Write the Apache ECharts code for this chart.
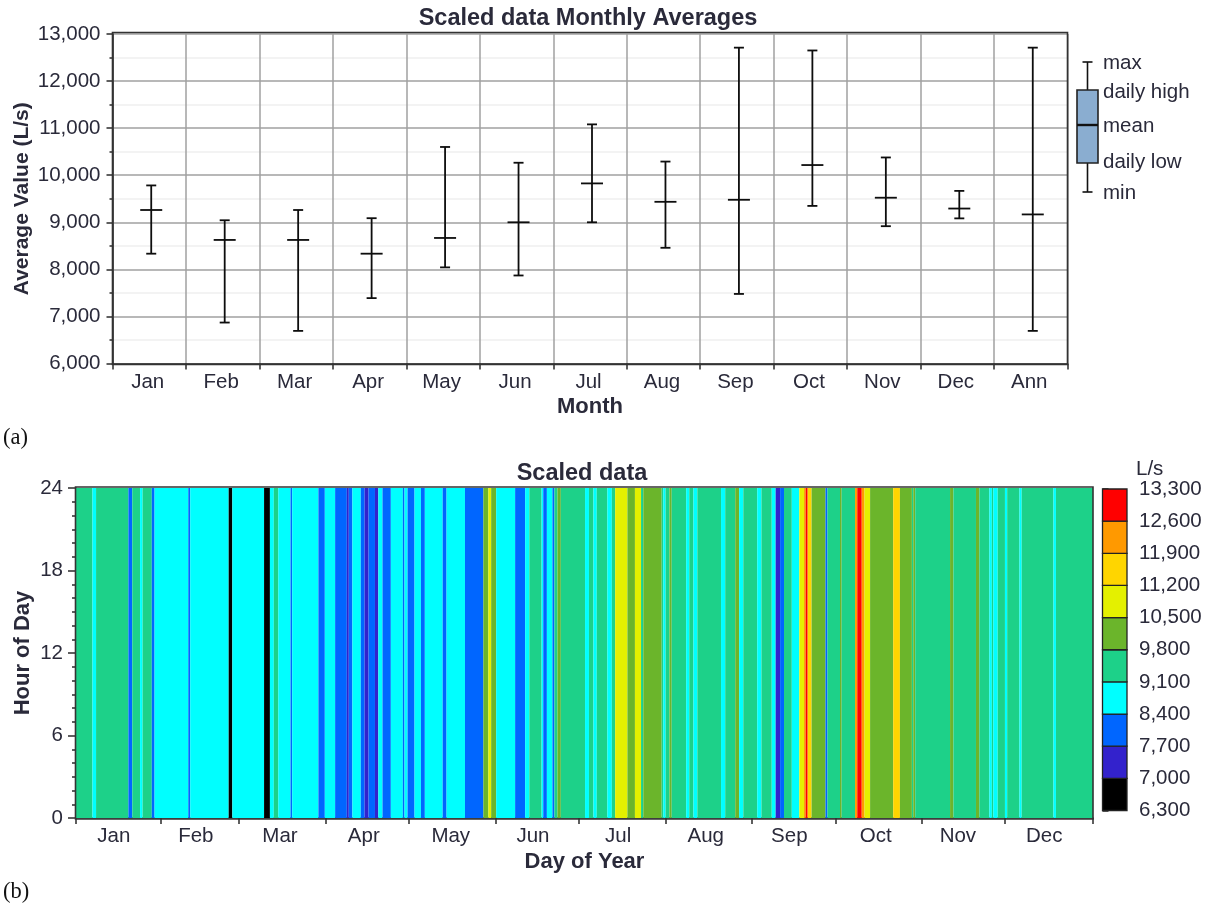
<!DOCTYPE html>
<html><head><meta charset="utf-8">
<style>html,body{margin:0;padding:0;background:#fff}#c{width:1214px;height:904px}</style>
<script src="https://cdn.jsdelivr.net/npm/echarts@6/dist/echarts.min.js"></script>
</head><body><div id="c"></div>
<script>
// ---- Monthly chart data (L/s)
const months = ['Jan','Feb','Mar','Apr','May','Jun','Jul','Aug','Sep','Oct','Nov','Dec','Ann'];
const monthlyMax  = [9783,9043,9261,9087,10600,10265,11080,10290,12710,12650,10377,9667,12710];
const monthlyMean = [9261,8625,8625,8333,8667,9000,9826,9435,9478,10216,9522,9292,9167];
const monthlyMin  = [8333,6870,6693,7389,8042,7870,9000,8458,7478,9348,8917,9083,6693];
const yTicksNote  = [6000,13000,1000];

// ---- Box key (schematic positions on its own hidden scale)
const keyNames  = ['max','daily high','mean','daily low','min'];
const keyLevels = [130,102,67,29,0];

// ---- Day-of-year strips: start day of each run + band of that run
const stripStart = [0,5.9,7.2,18.8,20.2,23,23.9,27.2,28.2,40.3,41,54.8,56.1,67.5,69.6,71,72.6,77,77.6,87,89.3,93,97.2,97.9,99.2,102.2,103.6,105,107.3,108.5,110,113,117.3,117.9,119,121.5,123.8,125.2,131.6,133,139.6,146.2,148,149,150.8,157.6,161.2,162.7,167.1,167.7,169,171,171.7,172.8,174,182.7,184.1,185.7,186.9,190.7,192.3,193.5,197.9,200.6,202.8,203.6,210.2,210.8,211.6,213,213.8,219,220.1,221.6,223,231.5,233,236.6,238,239.5,244.5,246,249.7,251.1,252.7,254.1,256.9,259.6,261.3,261.9,262.6,264,269,269.7,274.2,274.8,279.6,280.4,282,283,285,293.3,295.7,300,300.5,301.2,313.7,314.9,323,324.2,327.8,328.7,329.2,330.8,333.4,334.2,338.6,339.4,350.8,351.7];
const stripValue = [9450,8800,9450,8000,9450,8800,9450,8000,8800,8000,8800,6700,8800,6700,8800,9450,8800,8000,8800,8000,8800,8000,7400,8000,8800,8000,7400,8000,7400,8800,8000,8800,8000,8800,8000,8800,8000,8800,8000,8800,8000,10100,10800,10100,8800,8000,8800,9450,8800,8000,8800,8000,9450,10100,9450,8800,9450,8800,9450,8800,9450,10800,10100,10800,9450,10100,9450,8800,9450,10100,9450,8800,9450,8800,9450,8800,9450,10100,8800,9450,8800,9450,8800,7400,8000,9450,8800,10800,12200,12900,11500,10100,8000,9450,10100,9450,12200,12900,12200,10800,10100,11500,10100,9450,10100,9450,10100,9450,10100,9450,8800,9450,8800,9450,8800,9450,8800,9450,8800,9450];
const yearEnd = 365;

const monthTicks = [0,30.5,58.5,89.5,119.5,150.5,180.5,211.5,242.5,272.5,303.5,333.5,365];
const monthLabelDays = [13.6,43,73.2,103.3,134.5,164,194.6,226,256,287,316.5,347.5];
const monthLabels = ['Jan','Feb','Mar','Apr','May','Jun','Jul','Aug','Sep','Oct','Nov','Dec'];

// ---- Colour scale
const bandEdges  = [6300,7000,7700,8400,9100,9800,10500,11200,11900,12600,13300];
const bandColors = ['#000000','#3322cc','#0066ff','#00ffff','#1dd189','#6bb52b','#e4f000','#ffd500','#ff9900','#ff0000'];

const FONT = '"Liberation Sans", Arial, sans-serif';
const TXT = '#2a2a3a', AX = '#2b2b2b', GRID = '#a0a0a0';
const colorOf = v => { for (let i = 0; i < bandColors.length; i++) if (v < bandEdges[i+1]) return bandColors[i]; return bandColors[9]; };
const thous = v => String(v).replace(/\B(?=(\d{3})+$)/g, ',');

const stripData = stripStart.map((s,i) => [s, i+1 < stripStart.length ? stripStart[i+1] : yearEnd, stripValue[i]]);
const bandData = bandColors.map((c,i) => [bandEdges[i], bandEdges[i+1], c]);

const chart = echarts.init(document.getElementById('c'), null, {renderer:'canvas'});
const axisLine = {show:true, onZero:false, lineStyle:{color:AX, width:1.5}};
const TICKFS = 20.5, NAMEFS = 22;

chart.setOption({
  animation:false, backgroundColor:'#fff',
  title:[
    {text:'Scaled data Monthly Averages', left:588, top:7, padding:0, textAlign:'center', textStyle:{fontFamily:FONT,fontWeight:'bold',fontSize:23.5,color:TXT}},
    {text:'Scaled data', left:582, top:462, padding:0, textAlign:'center', textStyle:{fontFamily:FONT,fontWeight:'bold',fontSize:23.5,color:TXT}},
    {text:'(a)', left:3, top:427, padding:0, textStyle:{fontFamily:'"Liberation Serif",serif',fontWeight:'normal',fontSize:22.5,color:'#111'}},
    {text:'(b)', left:3, top:881, padding:0, textStyle:{fontFamily:'"Liberation Serif",serif',fontWeight:'normal',fontSize:22.5,color:'#111'}},
    {text:'L/s', left:1136, top:459, padding:0, textStyle:{fontFamily:FONT,fontWeight:'normal',fontSize:20.5,color:TXT}}
  ],
  grid:[
    {left:112.5, top:34, width:955, height:329.5, outerBoundsMode:'none'},
    {left:76, top:488, width:1017, height:330, outerBoundsMode:'none'},
    {left:1102.5, top:489, width:24.5, height:321.5, outerBoundsMode:'none'},
    {left:1077, top:62, width:21, height:130, outerBoundsMode:'none'}
  ],
  xAxis:[
    {gridIndex:0, type:'category', data:months, boundaryGap:true, axisLine,
     axisTick:{show:true, alignWithLabel:false, interval:0, length:6, lineStyle:{color:AX,width:1.5}},
     axisLabel:{interval:0, margin:8, fontFamily:FONT, fontSize:TICKFS, color:TXT, padding:[0,3,0,0]},
     splitLine:{show:true, interval:0, lineStyle:{color:GRID,width:1.5}},
     name:'Month', nameLocation:'middle', nameGap:32, nameTextStyle:{fontFamily:FONT,fontWeight:'bold',fontSize:NAMEFS,color:TXT}},
    {gridIndex:1, type:'value', min:0, max:yearEnd, axisLine,
     splitLine:{show:false},
     axisTick:{show:true, customValues:monthTicks, length:6, lineStyle:{color:AX,width:1.5}},
     axisLabel:{show:true, customValues:monthLabelDays, margin:8, fontFamily:FONT, fontSize:TICKFS, color:TXT,
       formatter:v => monthLabels[monthLabelDays.indexOf(v)]},
     name:'Day of Year', nameLocation:'middle', nameGap:33, nameTextStyle:{fontFamily:FONT,fontWeight:'bold',fontSize:NAMEFS,color:TXT}},
    {gridIndex:2, type:'value', min:0, max:1, show:false},
    {gridIndex:3, type:'value', min:0, max:1, show:false}
  ],
  yAxis:[
    {gridIndex:0, type:'value', min:yTicksNote[0], max:yTicksNote[1], interval:yTicksNote[2], axisLine,
     axisTick:{show:true, length:6, lineStyle:{color:AX,width:1.5}},
     minorTick:{show:true, splitNumber:2, length:3, lineStyle:{color:AX,width:1.5}},
     splitLine:{show:true, lineStyle:{color:GRID,width:1.5}},
     minorSplitLine:{show:true, lineStyle:{color:'#f0f0f0',width:1.5}},
     axisLabel:{margin:12, fontFamily:FONT, fontSize:TICKFS, color:TXT, formatter:thous, padding:[3,0,0,0]},
     name:'Average Value (L/s)', nameLocation:'middle', nameGap:80, nameMoveOverlap:false, nameRotate:90, nameTextStyle:{fontFamily:FONT,fontWeight:'bold',fontSize:21,color:TXT}},
    {gridIndex:1, type:'value', min:0, max:24, interval:6, axisLine,
     axisTick:{show:true, length:8, lineStyle:{color:AX,width:1.5}},
     minorTick:{show:true, splitNumber:6, length:4, lineStyle:{color:AX,width:1.5}},
     splitLine:{show:false},
     axisLabel:{margin:13, fontFamily:FONT, fontSize:TICKFS, color:TXT, padding:[2,0,0,0]},
     name:'Hour of Day', nameLocation:'middle', nameGap:42, nameMoveOverlap:false, nameRotate:90, nameTextStyle:{fontFamily:FONT,fontWeight:'bold',fontSize:NAMEFS,color:TXT}},
    {gridIndex:2, type:'value', position:'right', min:6300, max:13300, interval:700,
     axisLine:{show:false},
     axisTick:{show:true, length:6, lineStyle:{color:AX,width:1.5}},
     splitLine:{show:false},
     axisLabel:{margin:12, fontFamily:FONT, fontSize:TICKFS, color:TXT, formatter:thous, padding:[5,0,0,0]}},
    {gridIndex:3, type:'value', min:0, max:130, show:false}
  ],
  series:[
    {type:'custom', xAxisIndex:0, yAxisIndex:0, z:5, clip:false,
     data:months.map((m,i) => [i, monthlyMin[i], monthlyMean[i], monthlyMax[i]]),
     encode:{x:0,y:[1,2,3]},
     renderItem(params, api){
       const lo = api.coord([api.value(0), api.value(1)]);
       const me = api.coord([api.value(0), api.value(2)]);
       const hi = api.coord([api.value(0), api.value(3)]);
       const x = lo[0] + 2, st = {stroke:'#0d0d0d', lineWidth:1.8};
       const seg = (x1,y1,x2,y2) => ({type:'line', shape:{x1,y1,x2,y2}, style:st});
       return {type:'group', children:[
         seg(x,hi[1],x,lo[1]), seg(x-5,hi[1],x+5,hi[1]), seg(x-5,lo[1],x+5,lo[1]), seg(x-11,me[1],x+11,me[1])
       ]};
     }},
    {type:'custom', xAxisIndex:1, yAxisIndex:1, z:3,
     data:stripData, encode:{x:[0,1]},
     renderItem(params, api){
       const a = api.coord([api.value(0), 24]);
       const b = api.coord([api.value(1), 0]);
       return {type:'rect', shape:{x:a[0], y:a[1], width:b[0]-a[0], height:b[1]-a[1]},
               style:{fill:colorOf(api.value(2)), stroke:null}};
     }},
    {type:'custom', xAxisIndex:2, yAxisIndex:2, z:3, clip:false,
     data:bandData, encode:{y:[0,1]},
     renderItem(params, api){
       const a = api.coord([0, api.value(1)]);
       const b = api.coord([1, api.value(0)]);
       return {type:'rect', shape:{x:a[0], y:a[1], width:b[0]-a[0], height:b[1]-a[1]},
               style:{fill:bandColors[params.dataIndex], stroke:'#222', lineWidth:1.3}};
     }},
    {type:'custom', xAxisIndex:3, yAxisIndex:3, z:5, clip:false,
     data:[keyLevels], encode:{y:[0,1,2,3,4]},
     renderItem(params, api){
       const Y = keyLevels.map(v => api.coord([0,v])[1]);
       const L = api.coord([0,0])[0], R = api.coord([1,0])[0], C = (L+R)/2;
       const seg = (x1,y1,x2,y2,w) => ({type:'line', shape:{x1,y1,x2,y2}, style:{stroke:'#111',lineWidth:w||1.6}});
       const labelY = [Y[0]+1, Y[1]+2, Y[2]+1, Y[3]-1, Y[4]+1];
       return {type:'group', children:[
         seg(C,Y[0],C,Y[1]), seg(C,Y[3],C,Y[4]), seg(C-5,Y[0],C+5,Y[0]), seg(C-5,Y[4],C+5,Y[4]),
         {type:'rect', shape:{x:L,y:Y[1],width:R-L,height:Y[3]-Y[1]}, style:{fill:'#8aadd0',stroke:'#222',lineWidth:1.6}},
         seg(L,Y[2],R,Y[2],2.4),
         ...keyNames.map((t,i) => ({type:'text', style:{x:R+5, y:labelY[i], text:t, fill:TXT, font:'20.5px '+FONT, textAlign:'left', textVerticalAlign:'middle', verticalAlign:'middle'}}))
       ]};
     }}
  ],
  graphic:[
    {type:'rect', z:100, shape:{x:112.5,y:32.5,width:955,height:332}, style:{fill:'none',stroke:'#333',lineWidth:1.6}, silent:true},
    {type:'rect', z:100, shape:{x:75.5,y:487,width:1017.5,height:332}, style:{fill:'none',stroke:'#333',lineWidth:1.6}, silent:true}
  ]
});
</script></body></html>
